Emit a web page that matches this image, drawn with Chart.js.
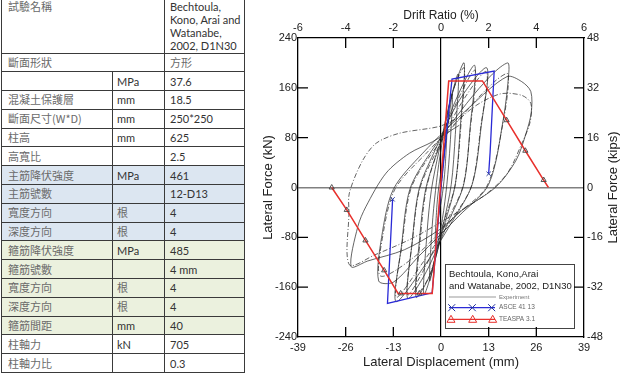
<!DOCTYPE html>
<html><head><meta charset="utf-8">
<script src="https://cdn.jsdelivr.net/npm/chart.js@4.4.1/dist/chart.umd.min.js"></script>
<style>
html,body{margin:0;padding:0;background:#fff;width:627px;height:373px;overflow:hidden;}
#spec{position:absolute;left:1px;top:0;border-collapse:collapse;table-layout:fixed;width:243px;font-family:Lato,"Noto Sans CJK TC",sans-serif;font-size:11px;color:#333;}
#spec td{border:1px solid #3a3a3a;padding:0 0 0 5px;line-height:13px;white-space:nowrap;vertical-align:middle;overflow:hidden;}
#spec tr{height:18.8px;}
#spec tr.first td{border-top:none;vertical-align:top;padding-top:0;}
#spec td.zh{font-family:"Noto Sans CJK TC",sans-serif;color:#6a6a6a;padding-left:6px;font-size:11px;}
#spec td.u{padding-left:4px;}
#spec tr.b td{background:#dce6f1;}
#spec tr.g td{background:#ebf1de;}
#wrap{position:absolute;left:250px;top:0;width:377px;height:373px;}
</style></head>
<body>
<table id="spec">
<colgroup><col style="width:111px"><col style="width:52px"><col style="width:80px"></colgroup>
<tr class="first" style="height:53px"><td colspan="2" class="zh">試驗名稱</td><td>Bechtoula,<br>Kono, Arai and<br>Watanabe,<br>2002, D1N30</td></tr>
<tr><td colspan="2" class="zh">斷面形狀</td><td class="zh" style="padding-left:5px">方形</td></tr>
<tr><td class="zh"></td><td class="u">MPa</td><td>37.6</td></tr>
<tr><td class="zh">混凝土保護層</td><td class="u">mm</td><td>18.5</td></tr>
<tr><td class="zh">斷面尺寸(W*D)</td><td class="u">mm</td><td>250*250</td></tr>
<tr><td class="zh">柱高</td><td class="u">mm</td><td>625</td></tr>
<tr><td class="zh">高寬比</td><td class="u"></td><td>2.5</td></tr>
<tr class="b"><td class="zh">主筋降伏強度</td><td class="u">MPa</td><td>461</td></tr>
<tr class="b"><td class="zh">主筋號數</td><td class="u"></td><td>12-D13</td></tr>
<tr class="b"><td class="zh">寬度方向</td><td class="zh u">根</td><td>4</td></tr>
<tr class="b"><td class="zh">深度方向</td><td class="zh u">根</td><td>4</td></tr>
<tr class="g"><td class="zh">箍筋降伏強度</td><td class="u">MPa</td><td>485</td></tr>
<tr class="g"><td class="zh">箍筋號數</td><td class="u"></td><td>4 mm</td></tr>
<tr class="g"><td class="zh">寬度方向</td><td class="zh u">根</td><td>4</td></tr>
<tr class="g"><td class="zh">深度方向</td><td class="zh u">根</td><td>4</td></tr>
<tr class="g"><td class="zh">箍筋間距</td><td class="u">mm</td><td>40</td></tr>
<tr><td class="zh">柱軸力</td><td class="u">kN</td><td>705</td></tr>
<tr><td class="zh">柱軸力比</td><td class="u"></td><td>0.3</td></tr>
</table>
<div id="wrap"><canvas id="c" width="377" height="373"></canvas></div>
<script>
// ---- tick labels ----
const dispTicks  = [-39, -26, -13, 0, 13, 26, 39];
const driftTicks = [-6, -4, -2, 0, 2, 4, 6];
const forceTicks = [-240, -160, -80, 0, 80, 160, 240];
const kipsTicks  = [-48, -32, -16, 0, 16, 32, 48];

// ---- TEASPA 3.1 backbone (mm, kN) ----
const teaspaX = [-29.8, -25.7, -20.6, -15.5, -11.7, -5.9, -2.4, 2.1, 11.3, 17.9, 23.0, 28.0, 29.3];
const teaspaY = [0, -36, -85, -133, -170, -170, -170, 171, 171, 108, 59, 12, 0];
const teaspaMarkX = [-29.8, -25.7, -20.6, -15.5, -11.0, -5.9, 17.9, 23.0, 28.0];
const teaspaMarkY = [0, -36, -85, -133, -170, -170, 108, 59, 12];

// ---- ASCE 41-13 backbone (mm, kN) ----
const asceX = [-13.2, -14.6, -2.4, 0, 3.0, 14.5, 13.4, 13.0];
const asceY = [-19, -186, -169, 0, 174, 187, 57, 22];
const asceMarkX = [-13.2, 13.0];
const asceMarkY = [-19, 22];

// ---- Experiment hysteresis (mm, kN) ----
const expSolid = [
 [0,0],[0.8,50],[1.6,92],[1.1,30],[0.4,-10],[-0.6,-45],[-1.6,-90],[-1.1,-28],[-0.4,10],
 [1.2,70],[3.1,150],[2.5,70],[1.6,5],[0.4,-50],[-1.4,-105],[-3.1,-150],[-2.4,-62],[-1.5,-5],[-0.3,50],
 [1.8,120],[4.7,182],[3.9,85],[2.8,5],[0.6,-60],[-2.2,-130],[-4.7,-172],[-3.8,-72],[-2.6,-3],[-0.5,60],
 [2.8,145],[6.3,200],[5.3,100],[3.9,5],[1.0,-58],[-3,-140],[-6.8,-176],[-5.8,-80],[-4.2,-3],[-1,58],
 [4,140],[9.2,196],[8,100],[6.2,5],[2,-55],[-4,-135],[-9.1,-178],[-7.9,-90],[-6,-3],[-2,55],
 [5,140],[12.5,192],[11,100],[8.5,5],[3,-55],[-5,-130],[-12.3,-183],[-10.8,-95],[-8.5,-3],[-3,55],
 [7,135],[14,182],[18.2,200],[18.5,185],[17,110],[13,5],[5,-45],[-6,-110],[-13,-152],[-17,-150],[-16.2,-80],[-13,-3],[-5,55],
 [8,130],[18,178],[22,170],[24.5,154],[24.6,120],[23.2,87],[20.5,44],[15,1],[5.9,-36],[-0.5,-68],[-10,-100],[-20,-118],[-24.5,-127],
 [-22.7,-63],[-20.5,-31],[-15,23],[-8.6,55],[-2.3,73.5],[5,100]
];
const expDashed = [
 [0,0],[2.5,140],[6.3,192],[5.3,90],[3.8,2],[0.5,-60],[-3,-140],[-6.6,-170],[-5.6,-80],[-4,-2],[-0.8,60],
 [4.5,140],[9.3,188],[8,95],[6,2],[1.5,-55],[-4.5,-130],[-9.1,-172],[-7.8,-85],[-5.8,-2],[-1.5,55],
 [5.5,135],[12.4,186],[10.8,95],[8.3,2],[2.5,-55],[-5.5,-125],[-12.2,-176],[-10.6,-90],[-8.2,-2],[-2.5,55],
 [8,130],[15,172],[18.3,182],[16.8,100],[12.5,2],[4,-45],[-7,-110],[-16.5,-142],[-15.8,-75],[-12.5,-2],[-4,55],
 [8,125],[16,150],[22,148],[24.5,135],[24.3,105],[22,70],[18,22],[12,-12],[3,-45],[-8,-82],[-18,-108],[-25,-124],
 [-25.1,-40],[-25,-9],[-21.5,42],[-17.7,71],[-11.4,87],[-0.5,98],[4,110]
];

const zip = (xs, ys) => xs.map((x, i) => ({x, y: ys[i]}));
const FAM = '"Liberation Sans", Arial, sans-serif';
const tickFont = {family: FAM, size: 11};
const RED = '#e8302c', BLUE = '#2a2ad6';

const zeroGrid = col => (c => (c.tick && c.tick.value === 0) ? col : 'rgba(0,0,0,0)');

const frame = {
  id: 'frame',
  afterDatasetsDraw(chart) {
    const ctx = chart.ctx;
    ctx.save();
    // legend box
    const bx = 195, by = 264, bw = 129, bh = 64;
    ctx.fillStyle = '#fff';
    ctx.fillRect(bx, by, bw, bh);
    ctx.strokeStyle = '#444'; ctx.lineWidth = 1;
    ctx.strokeRect(bx + 0.5, by + 0.5, bw, bh);
    ctx.fillStyle = '#222';
    ctx.font = '9.5px ' + FAM;
    ctx.textAlign = 'left'; ctx.textBaseline = 'middle';
    ctx.fillText('Bechtoula, Kono,Arai', bx + 4, by + 10.5);
    ctx.fillText('and Watanabe, 2002, D1N30', bx + 4, by + 22);
    // experiment sample
    ctx.strokeStyle = '#999'; ctx.lineWidth = 1;
    ctx.beginPath(); ctx.moveTo(bx + 4, by + 33); ctx.lineTo(bx + 51, by + 33); ctx.stroke();
    ctx.fillStyle = '#777'; ctx.font = '6px ' + FAM;
    ctx.fillText('Experiment', bx + 54, by + 33);
    // ASCE sample
    let yy = by + 43.7;
    ctx.strokeStyle = BLUE; ctx.lineWidth = 1.3;
    ctx.beginPath(); ctx.moveTo(bx + 4, yy); ctx.lineTo(bx + 50, yy); ctx.stroke();
    ctx.strokeStyle = '#223399'; ctx.lineWidth = 1;
    [bx + 6.7, bx + 27.3, bx + 46.7].forEach(px => {
      ctx.beginPath();
      ctx.moveTo(px - 3.5, yy - 3.5); ctx.lineTo(px + 3.5, yy + 3.5);
      ctx.moveTo(px - 3.5, yy + 3.5); ctx.lineTo(px + 3.5, yy - 3.5);
      ctx.stroke();
    });
    ctx.fillStyle = '#666'; ctx.font = '6.5px ' + FAM;
    ctx.fillText('ASCE 41 13', bx + 54, yy);
    // TEASPA sample
    yy = by + 55.3;
    ctx.strokeStyle = RED; ctx.lineWidth = 1.3;
    ctx.beginPath(); ctx.moveTo(bx + 4, yy); ctx.lineTo(bx + 50, yy); ctx.stroke();
    ctx.lineWidth = 1;
    [bx + 6, bx + 27.7, bx + 47.7].forEach(px => {
      ctx.beginPath();
      ctx.moveTo(px, yy - 4); ctx.lineTo(px + 4, yy + 3); ctx.lineTo(px - 4, yy + 3); ctx.closePath();
      ctx.stroke();
    });
    ctx.fillText('TEASPA 3.1', bx + 54, yy);
    ctx.restore();
  },
  afterDraw(chart) {
    const {ctx, chartArea: a, scales} = chart;
    ctx.save();
    ctx.strokeStyle = '#000'; ctx.lineWidth = 1.3;
    const L = 10;
    ctx.beginPath();
    dispTicks.slice(1, -1).forEach(v => { if (v === 0) return; const p = scales.x.getPixelForValue(v); ctx.moveTo(p, a.bottom); ctx.lineTo(p, a.bottom - L); });
    driftTicks.slice(1, -1).forEach(v => { if (v === 0) return; const p = scales.x2.getPixelForValue(v); ctx.moveTo(p, a.top); ctx.lineTo(p, a.top + L); });
    forceTicks.slice(1, -1).forEach(v => { if (v === 0) return; const p = scales.y.getPixelForValue(v); ctx.moveTo(a.left, p); ctx.lineTo(a.left + L, p); });
    kipsTicks.slice(1, -1).forEach(v => { if (v === 0) return; const p = scales.y2.getPixelForValue(v); ctx.moveTo(a.right, p); ctx.lineTo(a.right - L, p); });
    ctx.stroke();
    // right axis title (reads bottom-to-top like the left one)
    ctx.font = '13px ' + FAM; ctx.fillStyle = '#222';
    ctx.textAlign = 'center'; ctx.textBaseline = 'middle';
    ctx.translate(363, (a.top + a.bottom) / 2);
    ctx.rotate(-Math.PI / 2);
    ctx.fillText('Lateral Force (kips)', 0, 0);
    ctx.restore();
  }
};

new Chart(document.getElementById('c'), {
  type: 'scatter',
  data: {
    datasets: [
      {label: 'TEASPA marks', data: zip(teaspaMarkX, teaspaMarkY), showLine: false, pointStyle: 'triangle', pointRadius: 3, pointBorderColor: '#444', pointBackgroundColor: 'rgba(0,0,0,0)', pointBorderWidth: 0.9},
      {label: 'TEASPA 3.1', data: zip(teaspaX, teaspaY), showLine: true, borderColor: RED, borderWidth: 1.5, pointRadius: 0},
      {label: 'ASCE marks', data: zip(asceMarkX, asceMarkY), showLine: false, pointStyle: 'crossRot', pointRadius: 3, pointBorderColor: '#2a3a9a', pointBorderWidth: 1},
      {label: 'ASCE 41 13', data: zip(asceX, asceY), showLine: true, borderColor: BLUE, borderWidth: 1.3, pointRadius: 0},
      {label: 'Experiment', data: expSolid, showLine: true, borderColor: '#222', borderWidth: 0.7, pointRadius: 0, tension: 0.3},
      {label: 'Experiment b', data: expDashed, showLine: true, borderColor: '#222', borderWidth: 0.7, borderDash: [5, 2, 1, 2], pointRadius: 0, tension: 0.3}
    ]
  },
  options: {
    responsive: false, animation: false, devicePixelRatio: 1,
    layout: {padding: 0},
    plugins: {legend: {display: false}, tooltip: {enabled: false}},
    scales: {
      x: {type: 'linear', position: 'bottom', min: -39, max: 39,
        afterBuildTicks: s => { s.ticks = dispTicks.map(v => ({value: v})); },
        afterFit: s => { s.height = 36; },
        ticks: {font: tickFont, color: '#222', padding: 4, autoSkip: false, maxRotation: 0},
        grid: {drawTicks: false, color: zeroGrid('#000'), lineWidth: 1.2},
        border: {display: true, color: '#000', width: 1.3},
        title: {display: true, text: 'Lateral Displacement (mm)', color: '#222', font: {family: FAM, size: 13}, padding: {top: 0, bottom: 3}}
      },
      x2: {type: 'linear', position: 'top', min: -6, max: 6,
        afterBuildTicks: s => { s.ticks = driftTicks.map(v => ({value: v})); },
        afterFit: s => { s.height = 38; },
        ticks: {font: tickFont, color: '#222', padding: 3, autoSkip: false, maxRotation: 0},
        grid: {display: false, drawTicks: false},
        border: {display: true, color: '#000', width: 1.3},
        title: {display: true, text: 'Drift Ratio (%)', color: '#222', font: {family: FAM, size: 12}, padding: {top: 8, bottom: 0}}
      },
      y: {type: 'linear', position: 'left', min: -240, max: 240,
        afterBuildTicks: s => { s.ticks = forceTicks.map(v => ({value: v})); },
        afterFit: s => { s.width = 48; },
        ticks: {font: tickFont, color: '#222', padding: 1, autoSkip: false},
        grid: {drawTicks: false, color: zeroGrid('#808080'), lineWidth: 1.5},
        border: {display: true, color: '#000', width: 1.3},
        title: {display: true, text: 'Lateral Force (kN)', color: '#222', font: {family: FAM, size: 13}, padding: {top: 11, bottom: 0}}
      },
      y2: {type: 'linear', position: 'right', min: -48, max: 48,
        afterBuildTicks: s => { s.ticks = kipsTicks.map(v => ({value: v})); },
        afterFit: s => { s.width = 43; },
        ticks: {font: tickFont, color: '#222', padding: 3, autoSkip: false},
        grid: {display: false, drawTicks: false},
        border: {display: true, color: '#000', width: 1.3}
      }
    }
  },
  plugins: [frame]
});
</script>
</body></html>
